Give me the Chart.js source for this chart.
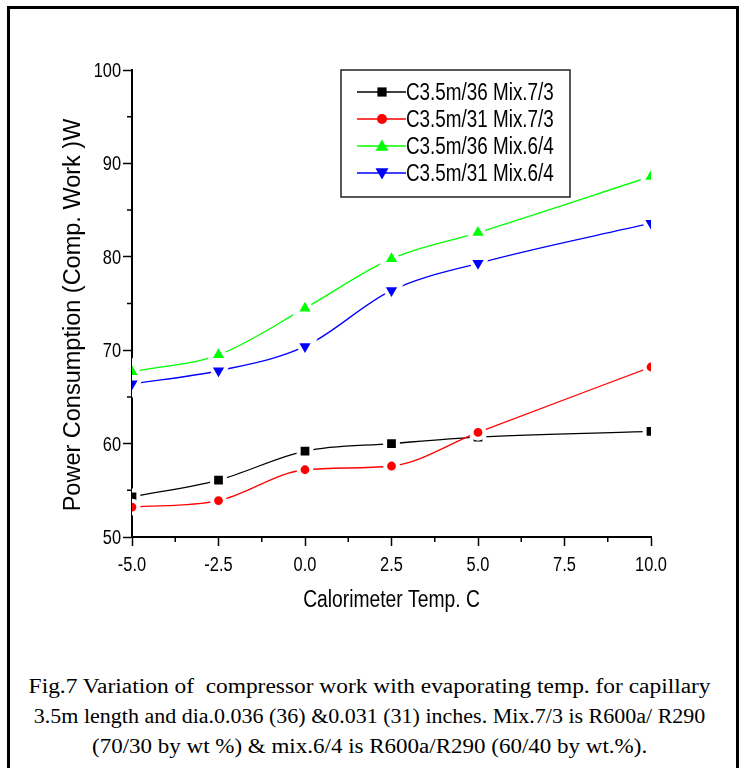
<!DOCTYPE html>
<html>
<head>
<title>Power Consumption vs Calorimeter Temp.</title>
<meta charset="utf-8">
<style>
  body { margin: 0; background: #fff; }
  #frame { position: absolute; left: 7px; top: 6px; width: 726px; height: 800px; border: 3px solid #000; }
  #chart { position: absolute; left: 0; top: 0; }
  #caption { position: absolute; left: 0; top: 671px; width: 739px; text-align: center;
             font-family: 'Liberation Serif', serif; font-size: 20px; line-height: 30px; color: #000; }
  #caption div { white-space: pre; transform-origin: 369px 0; }
</style>
<script src="https://cdn.jsdelivr.net/npm/chart.js"></script>
</head>
<body>
<div id="frame"></div>
<canvas id="chart" width="739" height="640"></canvas>
<div id="caption">
  <div style="transform: scaleX(1.17)">Fig.7 Variation of  compressor work with evaporating temp. for capillary</div>
  <div style="transform: scaleX(1.10)">3.5m length and dia.0.036 (36) &amp;0.031 (31) inches. Mix.7/3 is R600a/ R290</div>
  <div style="transform: scaleX(1.15)">(70/30 by wt %) &amp; mix.6/4 is R600a/R290 (60/40 by wt.%).</div>
</div>

<script>
// calorimeter temperature (C)
const temps = [-5, -2.5, 0, 2.5, 5, 10];

// compressor work (W)
const c36Mix73 = [54.3, 56.1, 59.2, 60.0, 60.7, 61.3];
const c31Mix73 = [53.2, 53.9, 57.2, 57.6, 61.2, 68.2];
const c36Mix64 = [67.7, 69.5, 74.5, 79.8, 82.6, 88.6];
const c31Mix64 = [66.4, 67.8, 70.4, 76.4, 79.3, 83.6];

const seriesNames = ['C3.5m/36 Mix.7/3', 'C3.5m/31 Mix.7/3', 'C3.5m/36 Mix.6/4', 'C3.5m/31 Mix.6/4'];

const xTicks = [-5, -2.5, 0, 2.5, 5, 7.5, 10];
const yTicks = [50, 60, 70, 80, 90, 100];

const SANS = "'Liberation Sans', Arial, sans-serif";
const SQUEEZE = 0.82;   // condensed look for the axis and legend lettering

function series(label, values, color, style, radius, rotation, order) {
    return {
        label: label,
        data: temps.map((t, i) => ({ x: t, y: values[i] })),
        borderColor: color,
        borderWidth: 1.3,
        backgroundColor: color,
        pointBackgroundColor: color,
        pointBorderColor: '#fff',
        pointBorderWidth: 4,
        pointStyle: style,
        pointRadius: radius,
        pointRotation: rotation,
        cubicInterpolationMode: 'monotone',
        order: order
    };
}

const datasets = [
    series(seriesNames[0], c36Mix73, '#000000', 'rect', 9, 0, 1),
    series(seriesNames[1], c31Mix73, '#ff0000', 'circle', 6.4, 0, 0),
    series(seriesNames[2], c36Mix64, '#00ff00', 'triangle', 10.5, 0, 0),
    series(seriesNames[3], c31Mix64, '#0000ff', 'triangle', 10.5, 180, 0)
];

function squeezedText(ctx, text, x, y, size, align) {
    ctx.save();
    ctx.translate(x, y);
    ctx.scale(SQUEEZE, 1);
    ctx.font = size + 'px ' + SANS;
    ctx.textAlign = align;
    ctx.textBaseline = 'alphabetic';
    ctx.fillText(text, 0, 0);
    ctx.restore();
}

// small ticks halfway between the labelled ones
const minorTicks = {
    id: 'minorTicks',
    afterDraw(chart) {
        const ctx = chart.ctx;
        const xs = chart.scales.x, ys = chart.scales.y;
        ctx.save();
        ctx.strokeStyle = '#000';
        ctx.lineWidth = 1.5;
        ctx.beginPath();
        for (let i = 0; i < xTicks.length - 1; i++) {
            const px = xs.getPixelForValue((xTicks[i] + xTicks[i + 1]) / 2);
            ctx.moveTo(px, chart.chartArea.bottom);
            ctx.lineTo(px, chart.chartArea.bottom + 5);
        }
        for (let i = 0; i < yTicks.length - 1; i++) {
            const py = ys.getPixelForValue((yTicks[i] + yTicks[i + 1]) / 2);
            ctx.moveTo(chart.chartArea.left, py);
            ctx.lineTo(chart.chartArea.left - 5, py);
        }
        ctx.stroke();
        ctx.restore();
    }
};

// tick labels and axis titles
const axisText = {
    id: 'axisText',
    afterDraw(chart) {
        const ctx = chart.ctx;
        const xs = chart.scales.x, ys = chart.scales.y;
        const area = chart.chartArea;
        ctx.save();
        ctx.fillStyle = '#000';
        xs.ticks.forEach(t => {
            squeezedText(ctx, t.value.toFixed(1), xs.getPixelForValue(t.value), area.bottom + 34, 20, 'center');
        });
        ys.ticks.forEach(t => {
            squeezedText(ctx, String(t.value), area.left - 11, ys.getPixelForValue(t.value) + 7, 20, 'right');
        });
        squeezedText(ctx, 'Calorimeter Temp. C', (area.left + area.right) / 2, 607, 23.5, 'center');

        ctx.translate(74, 315);
        ctx.rotate(-Math.PI / 2);
        ctx.font = '23.5px ' + SANS;
        ctx.textAlign = 'center';
        ctx.textBaseline = 'middle';
        ctx.fillText('Power Consumption (Comp. Work )W', 0, 0);
        ctx.restore();
    }
};

// boxed legend with line + marker samples
const boxLegend = {
    id: 'boxLegend',
    afterDraw(chart) {
        const ctx = chart.ctx;
        const x0 = 341, y0 = 70, w = 229, h = 127;
        ctx.save();
        ctx.fillStyle = '#fff';
        ctx.fillRect(x0, y0, w, h);
        ctx.strokeStyle = '#222';
        ctx.lineWidth = 1.5;
        ctx.strokeRect(x0, y0, w, h);
        datasets.forEach((ds, i) => {
            const y = 92 + i * 27;
            ctx.strokeStyle = ds.borderColor;
            ctx.lineWidth = 1.3;
            ctx.beginPath();
            ctx.moveTo(357, y);
            ctx.lineTo(406, y);
            ctx.stroke();
            ctx.fillStyle = ds.borderColor;
            Chart.helpers.drawPoint(ctx, {
                pointStyle: ds.pointStyle,
                radius: ds.pointStyle === 'triangle' ? 7.5 : (ds.pointStyle === 'rect' ? 6.5 : 5),
                rotation: ds.pointRotation,
                borderWidth: 0
            }, 382, y + (ds.pointStyle === 'triangle' ? (ds.pointRotation ? -1 : 1) : 0));
            ctx.fillStyle = '#000';
            squeezedText(ctx, ds.label, 406, y + 8, 23, 'left');
        });
        ctx.restore();
    }
};

new Chart(document.getElementById('chart'), {
    type: 'line',
    data: { datasets: datasets },
    plugins: [minorTicks, axisText, boxLegend],
    options: {
        responsive: false,
        animation: false,
        events: [],
        layout: { padding: { left: 0, top: 70, right: 88, bottom: 0 } },
        plugins: { legend: { display: false }, tooltip: { enabled: false } },
        scales: {
            x: {
                type: 'linear',
                min: xTicks[0],
                max: xTicks[xTicks.length - 1],
                afterFit(scale) { scale.height = 103; },
                afterBuildTicks(scale) { scale.ticks = xTicks.map(v => ({ value: v })); },
                ticks: { display: false },
                grid: { drawOnChartArea: false, tickLength: 9, tickColor: '#000', tickWidth: 1.5 },
                border: { display: true, color: '#000', width: 2 }
            },
            y: {
                min: yTicks[0],
                max: yTicks[yTicks.length - 1],
                afterFit(scale) { scale.width = 132; },
                afterBuildTicks(scale) { scale.ticks = yTicks.map(v => ({ value: v })); },
                ticks: { display: false },
                grid: { drawOnChartArea: false, tickLength: 9, tickColor: '#000', tickWidth: 1.5 },
                border: { display: true, color: '#000', width: 2 }
            }
        }
    }
});
</script>
</body>
</html>
